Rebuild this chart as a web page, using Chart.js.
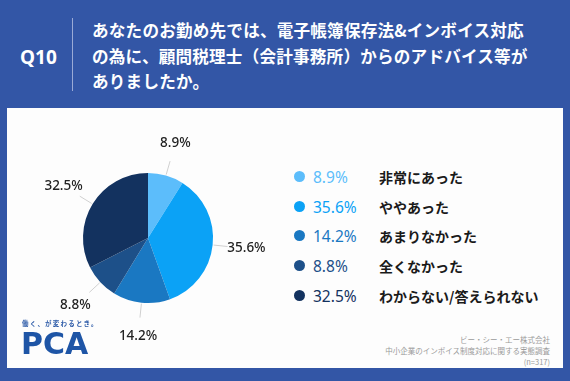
<!DOCTYPE html>
<html><head><meta charset="utf-8">
<script src="https://cdn.jsdelivr.net/npm/chart.js@4"></script>
<style>
html,body{margin:0;padding:0}
body{width:570px;height:381px;background:#3356a6;position:relative;overflow:hidden;font-family:"Noto Sans CJK JP","Noto Sans",sans-serif}
#panel{position:absolute;left:7px;top:108px;width:556px;height:260px;background:#fdfdfd}
#q{position:absolute;left:20px;top:43px;color:#fff;font:700 19px "Noto Sans","Noto Sans CJK JP",sans-serif;line-height:28px}
#div{position:absolute;left:72px;top:18px;width:1px;height:73px;background:#9aaad6}
#title{position:absolute;left:92px;top:18px;color:#fff;font-weight:700;font-size:16.6px;letter-spacing:0.2px;line-height:25.5px;width:470px;white-space:nowrap}
#wrap{position:absolute;left:18px;top:107.5px;width:260px;height:260px}
#legend{position:absolute;left:294px;top:166px}
.row{position:absolute;height:20px;white-space:nowrap}
.dot{position:absolute;left:0;top:5px;width:11px;height:11px;border-radius:50%}
.pct{position:absolute;left:19px;top:0;font:400 15.5px "Noto Sans",sans-serif;line-height:22px}
.lab{position:absolute;left:85px;top:0;font-weight:700;font-size:14px;line-height:22px;color:#1a1a1a}
#foot{position:absolute;right:20px;top:334px;text-align:right;color:#9a9a9a;font-size:7.5px;line-height:11px}
#tag{position:absolute;left:22px;top:318px;color:#2d5ba8;font-size:6.5px;font-weight:700;letter-spacing:1.2px}
#logo{position:absolute;left:21px;top:327px;color:#1e55a6;font:700 30px "DejaVu Sans",sans-serif;letter-spacing:0px;line-height:34px}
</style></head><body>
<div id="panel"></div>
<div id="q">Q10</div>
<div id="div"></div>
<div id="title">あなたのお勤め先では、電子帳簿保存法&amp;インボイス対応<br>の為に、顧問税理士（会計事務所）からのアドバイス等が<br>ありましたか。</div>
<div id="wrap"><canvas id="c" width="260" height="260"></canvas></div>
<div id="legend"></div>
<div id="tag">働く、が変わるとき。</div>
<div id="logo">PCA</div>
<div id="foot">ビー・シー・エー株式会社<br>中小企業のインボイス制度対応に関する実態調査<br>(n=317)</div>
<script>
const categories = ["非常にあった","ややあった","あまりなかった","全くなかった","わからない/答えられない"];
const values = [8.9, 35.6, 14.2, 8.8, 32.5];
const colors = ["#5cbdfb","#0ba2f6","#1a78c2","#1d5089","#13325f"];

const legend = document.getElementById('legend');
categories.forEach((c,i)=>{
  const r = document.createElement('div');
  r.className='row'; r.style.top=(i*29.7)+'px';
  r.innerHTML = `<span class="dot" style="background:${colors[i]}"></span><span class="pct" style="color:${colors[i]}">${values[i].toFixed(1)}%</span><span class="lab">${c}</span>`;
  legend.appendChild(r);
});

const outerLabels = {
  id:'outerLabels',
  afterDatasetsDraw(chart){
    const ctx = chart.ctx;
    const meta = chart.getDatasetMeta(0);
    ctx.save();
    meta.data.forEach((arc,i)=>{
      const a = (arc.startAngle+arc.endAngle)/2;
      const r = arc.outerRadius;
      const cx = arc.x, cy = arc.y;
      const cos=Math.cos(a), sin=Math.sin(a);
      ctx.strokeStyle='#d0d0d0'; ctx.lineWidth=1;
      ctx.beginPath();
      ctx.moveTo(cx+cos*(r+1), cy+sin*(r+1));
      ctx.lineTo(cx+cos*(r+15), cy+sin*(r+15));
      ctx.stroke();
      ctx.fillStyle='#222';
      ctx.font='500 13.5px "Noto Sans",sans-serif';
      ctx.textAlign='center'; ctx.textBaseline='middle';
      ctx.fillText(values[i].toFixed(1)+'%', cx+cos*(r+34), cy+sin*(r+34));
    });
    ctx.restore();
  }
};

new Chart(document.getElementById('c'),{
  type:'pie',
  data:{labels:categories,datasets:[{data:values,backgroundColor:colors,borderWidth:0}]},
  options:{
    responsive:false,animation:false,
    layout:{padding:65},
    plugins:{legend:{display:false},tooltip:{enabled:false}}
  },
  plugins:[outerLabels]
});
</script>
</body></html>
